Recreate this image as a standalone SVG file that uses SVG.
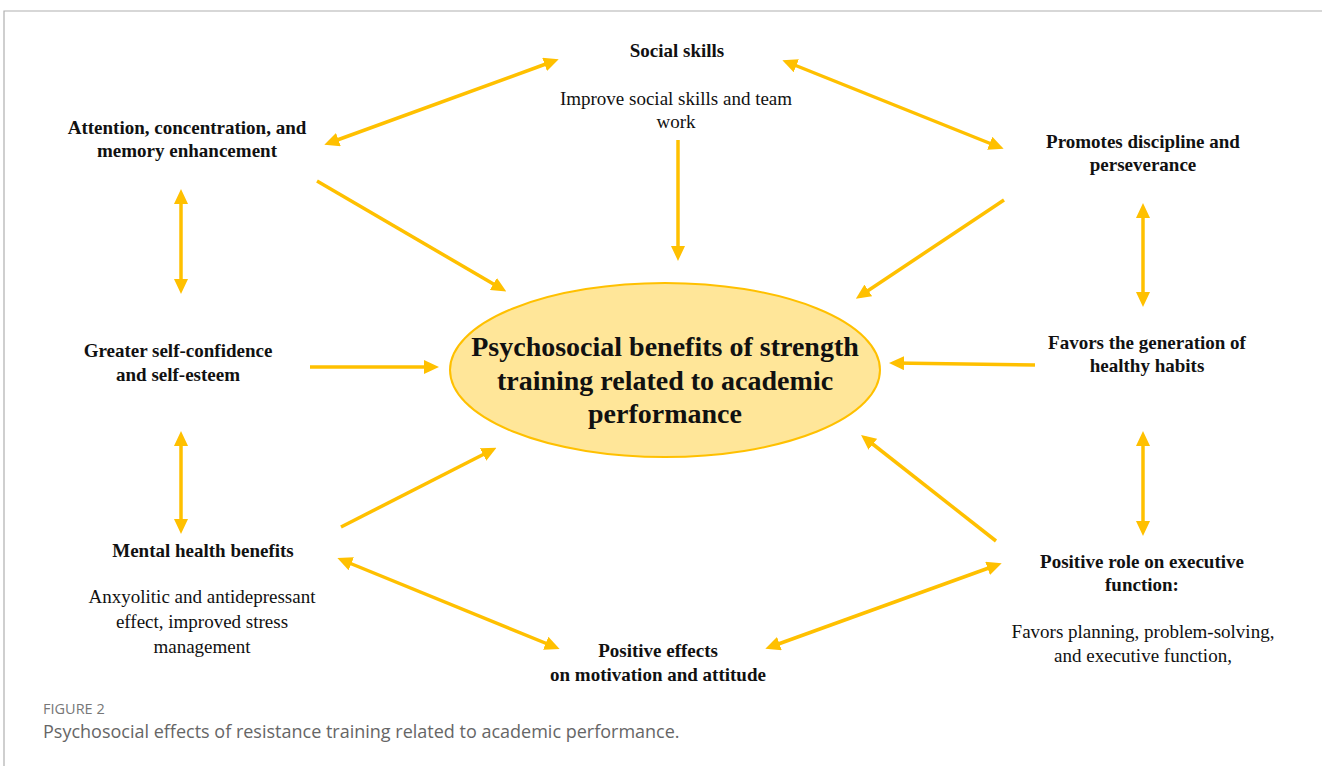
<svg xmlns="http://www.w3.org/2000/svg" width="1322" height="766" viewBox="0 0 1322 766">
  <style>
    .frame { stroke: #b0b0b0; stroke-width: 1.2; fill: none; }
    .lbl { font-family: "Liberation Serif", "Times New Roman", serif; font-size: 19px; font-weight: bold; fill: #111; text-anchor: middle; }
    .txt { font-family: "Liberation Serif", "Times New Roman", serif; font-size: 19px; fill: #111; text-anchor: middle; }
    .hub { font-family: "Liberation Serif", "Times New Roman", serif; font-size: 28px; font-weight: bold; fill: #111; text-anchor: middle; }
    .conn { stroke: #FFC000; stroke-width: 3.5; fill: none; }
    .one { marker-end: url(#head); }
    .two { marker-start: url(#head); marker-end: url(#head); }
    .fig { font-family: "Open Sans", "Liberation Sans", sans-serif; font-size: 14.5px; fill: #777; }
    .cap { font-family: "Open Sans", "Liberation Sans", sans-serif; font-size: 18px; fill: #666; }
  </style>
  <defs>
    <marker id="head" markerUnits="userSpaceOnUse" markerWidth="15" markerHeight="14" viewBox="0 0 15 14" refX="10" refY="7" orient="auto-start-reverse">
      <path d="M0,0 L15,7 L0,14 Z" fill="#FFC000"/>
    </marker>
  </defs>
  <rect width="1322" height="766" fill="#fff"/>
  <path class="frame" d="M4,766 V11 H1322"/>

  <g id="connectors">
    <line class="conn two" x1="329" y1="143" x2="554" y2="61"/>
    <line class="conn two" x1="787" y1="62" x2="999" y2="147"/>
    <line class="conn one" x1="678" y1="140" x2="678" y2="256"/>
    <line class="conn one" x1="317" y1="181" x2="502" y2="289"/>
    <line class="conn one" x1="1004" y1="200" x2="860" y2="296"/>
    <line class="conn two" x1="181" y1="194" x2="181" y2="289"/>
    <line class="conn one" x1="310" y1="367" x2="434" y2="367"/>
    <line class="conn one" x1="1035" y1="365" x2="894" y2="363"/>
    <line class="conn two" x1="1143" y1="208" x2="1143" y2="302"/>
    <line class="conn two" x1="181" y1="436" x2="181" y2="529"/>
    <line class="conn one" x1="341" y1="527" x2="492" y2="450"/>
    <line class="conn one" x1="996" y1="541" x2="865" y2="438"/>
    <line class="conn two" x1="1143" y1="436" x2="1143" y2="531"/>
    <line class="conn two" x1="342" y1="560" x2="555" y2="647"/>
    <line class="conn two" x1="770" y1="647" x2="997" y2="565"/>
  </g>

  <g id="hub">
    <ellipse cx="665" cy="370" rx="215" ry="87" fill="#FFE699" stroke="#FFC000" stroke-width="2"/>
    <text class="hub" x="665" y="356">Psychosocial benefits of strength</text>
    <text class="hub" x="665" y="390">training related to academic</text>
    <text class="hub" x="665" y="423">performance</text>
  </g>

  <g id="social-skills">
    <text class="lbl" x="677" y="57">Social skills</text>
    <text class="txt" x="676" y="105">Improve social skills and team</text>
    <text class="txt" x="676" y="128">work</text>
  </g>

  <g id="attention">
    <text class="lbl" x="187" y="134">Attention, concentration, and</text>
    <text class="lbl" x="187" y="157">memory enhancement</text>
  </g>

  <g id="discipline">
    <text class="lbl" x="1143" y="148">Promotes discipline and</text>
    <text class="lbl" x="1143" y="171">perseverance</text>
  </g>

  <g id="self-confidence">
    <text class="lbl" x="178" y="357">Greater self-confidence</text>
    <text class="lbl" x="178" y="381">and self-esteem</text>
  </g>

  <g id="healthy-habits">
    <text class="lbl" x="1147" y="349">Favors the generation of</text>
    <text class="lbl" x="1147" y="372">healthy habits</text>
  </g>

  <g id="mental-health">
    <text class="lbl" x="203" y="557">Mental health benefits</text>
    <text class="txt" x="202" y="603">Anxyolitic and antidepressant</text>
    <text class="txt" x="202" y="628">effect, improved stress</text>
    <text class="txt" x="202" y="653">management</text>
  </g>

  <g id="motivation">
    <text class="lbl" x="658" y="657">Positive effects</text>
    <text class="lbl" x="658" y="681">on motivation and attitude</text>
  </g>

  <g id="executive-function">
    <text class="lbl" x="1142" y="568">Positive role on executive</text>
    <text class="lbl" x="1142" y="591">function:</text>
    <text class="txt" x="1143" y="638">Favors planning, problem-solving,</text>
    <text class="txt" x="1143" y="662">and executive function,</text>
  </g>

  <g id="caption">
    <text class="fig" x="43" y="714">FIGURE 2</text>
    <text class="cap" x="43" y="738">Psychosocial effects of resistance training related to academic performance.</text>
  </g>
</svg>
